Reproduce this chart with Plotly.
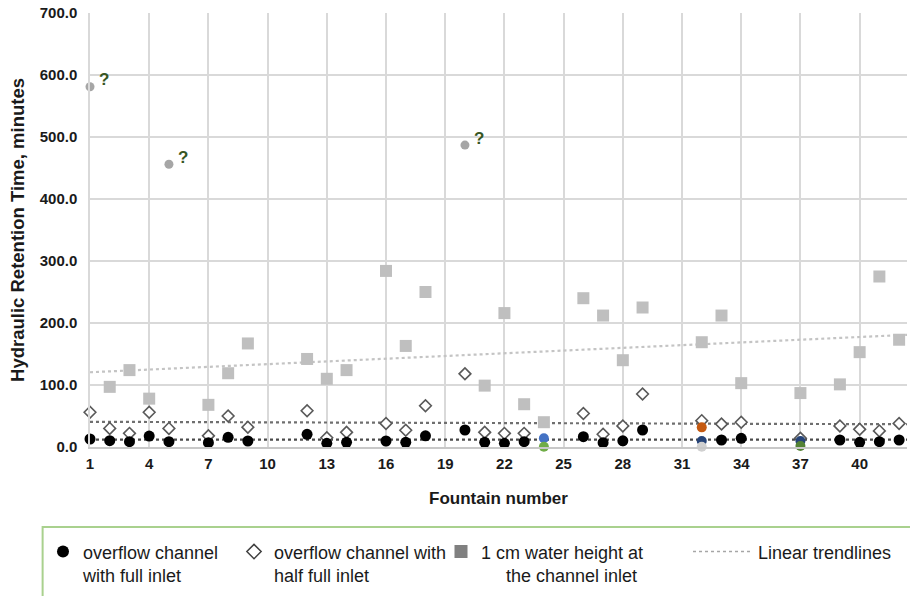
import numpy as np
import plotly.graph_objects as go

# Fountain numbers and hydraulic retention times (minutes)
full_x = [1, 2, 3, 4, 5, 7, 8, 9, 12, 13, 14, 16, 17, 18, 20, 21, 22, 23,
          26, 27, 28, 29, 33, 34, 39, 40, 41, 42]
full_y = [12.9, 10.2, 8.5, 17.7, 8.5, 6.9, 15.6, 9.7, 20.5, 6.0, 7.6, 9.7, 7.6, 18.0,
          27.4, 7.6, 6.0, 8.5, 16.6, 7.0, 10.0, 27.4, 11.3, 14.0, 11.3, 7.6, 8.5, 11.3]

half_x = [1, 2, 3, 4, 5, 7, 8, 9, 12, 13, 14, 16, 17, 18, 20, 21, 22, 23,
          26, 27, 28, 29, 32, 33, 34, 37, 39, 40, 41, 42]
half_y = [56, 30, 22, 56, 30, 18, 50, 32, 58.5, 15, 23.7, 38, 27, 66.6, 118, 23.7, 22, 22,
          54, 20.5, 34, 85.5, 42.5, 37, 40, 14, 34, 28.5, 26, 38]

cm_x = [2, 3, 4, 7, 8, 9, 12, 13, 14, 16, 17, 18, 21, 22, 23, 24,
        26, 27, 28, 29, 32, 33, 34, 37, 39, 40, 41, 42]
cm_y = [97, 124, 78, 68, 119, 167, 142, 110, 124, 284, 163, 250, 99, 216, 69, 40,
        240, 212, 140, 225, 169, 212, 103, 87, 101, 153, 275, 173]

# Doubtful measurements (marked with "?")
doubt_x = [1, 5, 20]
doubt_y = [581, 456, 487]

# Individually coloured points
extra_x = [24, 24, 32, 32, 32, 37, 37]
extra_y = [14, 0.5, 31.7, 9.7, 0.5, 9.7, 1.6]
extra_c = ["#4472c4", "#70ad47", "#c55a11", "#264478", "#d0d0d0", "#264478", "#548235"]

x_ticks = list(range(1, 41, 3))
y_ticks = list(range(0, 701, 100))
X_MAX = 42.4

FONT = "Liberation Sans, Arial, sans-serif"
TXT = "#1a1a1a"

fig = go.Figure()


def trend(xs, ys):
    k, b = np.polyfit(xs, ys, 1)
    tx = np.array([1.0, X_MAX])
    return tx, k * tx + b


# trendlines
for xs, ys, col in [(cm_x, cm_y, "#c4c4c4"), (half_x, half_y, "#6f6f6f"),
                    (full_x, full_y, "#4a4a4a")]:
    tx, ty = trend(xs, ys)
    fig.add_trace(go.Scatter(x=tx, y=ty, mode="lines", showlegend=False,
                             line=dict(color=col, width=2.2, dash="dot"),
                             hoverinfo="skip", cliponaxis=False))

fig.add_trace(go.Scatter(x=cm_x, y=cm_y, mode="markers", showlegend=False,
                         marker=dict(symbol="square", size=12, color="#bfbfbf"),
                         cliponaxis=False))
fig.add_trace(go.Scatter(x=doubt_x, y=doubt_y, mode="markers", showlegend=False,
                         marker=dict(symbol="circle", size=9, color="#a6a6a6"),
                         cliponaxis=False))
fig.add_trace(go.Scatter(x=half_x, y=half_y, mode="markers", showlegend=False,
                         marker=dict(symbol="diamond", size=9, color="white",
                                     line=dict(color="#595959", width=1.6)),
                         cliponaxis=False))
fig.add_trace(go.Scatter(x=full_x, y=full_y, mode="markers", showlegend=False,
                         marker=dict(symbol="circle", size=11, color="black"),
                         cliponaxis=False))
fig.add_trace(go.Scatter(x=extra_x, y=extra_y, mode="markers", showlegend=False,
                         marker=dict(symbol="circle", size=10, color=extra_c),
                         cliponaxis=False))

# legend entries, each in its own legend box
fig.add_trace(go.Scatter(x=[None], y=[None], mode="markers", legend="legend",
                         name="overflow channel<br>with full inlet",
                         marker=dict(symbol="circle", size=12, color="black")))
fig.add_trace(go.Scatter(x=[None], y=[None], mode="markers", legend="legend2",
                         name="overflow channel with<br>half full inlet",
                         marker=dict(symbol="diamond", size=11, color="white",
                                     line=dict(color="#404040", width=1.5))))
fig.add_trace(go.Scatter(x=[None], y=[None], mode="markers", legend="legend3",
                         name="1 cm water height at<br>\u00a0\u00a0\u00a0\u00a0\u00a0the channel inlet",
                         marker=dict(symbol="square", size=13, color="#808080")))
fig.add_trace(go.Scatter(x=[None], y=[None], mode="lines", legend="legend4",
                         name="Linear trendlines",
                         line=dict(color="#a6a6a6", width=1.5, dash="dot")))

for x, y in zip(doubt_x, doubt_y):
    fig.add_annotation(x=x, y=y, text="?", showarrow=False, xshift=14, yshift=7,
                       font=dict(family=FONT, size=17, color="#375623", weight="bold"))

# legend frame
fig.add_shape(type="rect", xref="paper", yref="paper",
              x0=-0.058, x1=1.01, y0=-0.35, y1=-0.1845,
              line=dict(color="#a9d18e", width=2), fillcolor="rgba(0,0,0,0)")


def legend_at(px_left, itemwidth=30):
    return dict(orientation="h", x=(px_left - 90) / 817, y=-0.199,
                xanchor="left", yanchor="top", valign="top",
                bgcolor="rgba(0,0,0,0)", itemwidth=itemwidth,
                font=dict(family=FONT, size=18, color=TXT))


fig.update_layout(
    width=910, height=596,
    margin=dict(l=90, r=3, t=13, b=149),
    paper_bgcolor="white", plot_bgcolor="white",
    font=dict(family=FONT, color=TXT),
    showlegend=True,
    legend=legend_at(43),
    legend2=legend_at(234),
    legend3=legend_at(441),
    legend4=legend_at(688, 60),
    xaxis=dict(range=[1, X_MAX], tickvals=x_ticks, showgrid=True,
               gridcolor="#d9d9d9", gridwidth=1.5, zeroline=False,
               showline=True, linecolor="#c8c8c8", linewidth=1.5,
               ticks="outside", ticklen=2, tickcolor="rgba(0,0,0,0)",
               tickfont=dict(family=FONT, size=15, color=TXT, weight="bold"),
               title=dict(text="Fountain number", standoff=21,
                          font=dict(family=FONT, size=17, color=TXT, weight="bold"))),
    yaxis=dict(range=[0, 700], tickvals=y_ticks, tickformat=".1f", showgrid=True,
               gridcolor="#d9d9d9", gridwidth=1.5, zeroline=False,
               showline=True, linecolor="#d9d9d9", linewidth=1.5,
               ticks="outside", ticklen=8, tickcolor="rgba(0,0,0,0)",
               tickfont=dict(family=FONT, size=15, color=TXT, weight="bold"),
               title=dict(text="Hydraulic Retention Time, minutes", standoff=10,
                          font=dict(family=FONT, size=18.5, color=TXT, weight="bold"))),
)

fig.write_html("out.html")
